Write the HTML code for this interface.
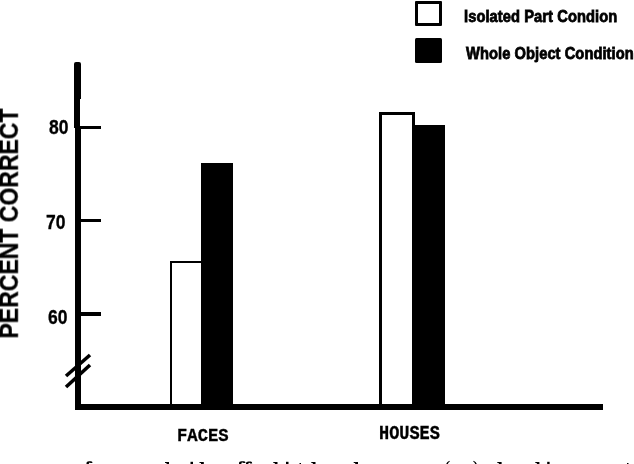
<!DOCTYPE html>
<html><head><meta charset="utf-8">
<style>
html,body{margin:0;padding:0;background:#fff;}
body{width:634px;height:464px;position:relative;overflow:hidden;font-family:"Liberation Sans",sans-serif;font-weight:bold;color:#000;}
.a{position:absolute;}
.k{background:#000;}
.t{position:absolute;white-space:nowrap;line-height:1;transform-origin:0 0;will-change:transform;-webkit-text-stroke:0.3px #000;}
.m{font-family:"Liberation Mono",monospace;}
</style></head><body>
<!-- y axis -->
<div class="a k" style="left:74px;top:62px;width:7px;height:37px;border-radius:2px 2px 0 0;"></div>
<div class="a k" style="left:74px;top:98px;width:6px;height:30px;"></div>
<div class="a k" style="left:75px;top:127px;width:6px;height:283px;"></div>
<!-- x axis -->
<div class="a k" style="left:75px;top:404px;width:528px;height:6px;"></div>
<!-- ticks -->
<div class="a k" style="left:78px;top:126px;width:23px;height:3px;"></div>
<div class="a k" style="left:78px;top:219px;width:23px;height:3px;"></div>
<div class="a k" style="left:78px;top:312px;width:23px;height:4px;"></div>
<!-- tick labels -->
<div class="t" id="l80" style="left:48.5px;top:118px;font-size:17.5px;transform:scaleY(1.15);">80</div>
<div class="t" id="l70" style="left:46px;top:212.5px;font-size:17.5px;transform:scaleY(1.15);">70</div>
<div class="t" id="l60" style="left:48px;top:308px;font-size:17.5px;transform:scaleY(1.15);">60</div>
<!-- axis break -->
<svg class="a" style="left:55px;top:345px;" width="50" height="50" viewBox="55 345 50 50">
<line x1="66" y1="376" x2="90" y2="355" stroke="#000" stroke-width="3.6"/>
<line x1="66" y1="387" x2="90" y2="365" stroke="#000" stroke-width="3.6"/>
</svg>
<!-- bars -->
<div class="a" style="left:169.6px;top:261.4px;width:30px;height:145px;border:2.4px solid #000;border-bottom:0;"></div>
<div class="a k" style="left:201.2px;top:162.6px;width:32.2px;height:244px;"></div>
<div class="a" style="left:378.8px;top:112px;width:30.5px;height:295px;border:3px solid #000;border-bottom:0;"></div>
<div class="a k" style="left:412.5px;top:125px;width:32.5px;height:282px;"></div>
<!-- legend -->
<div class="a" style="left:415px;top:1px;width:21px;height:19px;border:3px solid #000;border-radius:1px;"></div>
<div class="a k" style="left:415px;top:38px;width:27px;height:24.5px;border-radius:1.5px;"></div>
<div class="t" id="lg1" style="-webkit-text-stroke:0.7px #000;left:463.5px;top:8.4px;font-size:14.7px;letter-spacing:0.07px;transform:scaleY(1.13);">Isolated Part Condion</div>
<div class="t" id="lg2" style="-webkit-text-stroke:0.7px #000;left:466px;top:45px;font-size:14.7px;letter-spacing:0.06px;transform:scaleY(1.13);">Whole Object Condition</div>
<!-- x labels -->
<div class="t m" id="xf" style="left:177.1px;top:426.5px;font-size:17.2px;transform:scaleY(1.08);">FACES</div>
<div class="t m" id="xh" style="left:379.2px;top:424.6px;font-size:16.9px;transform:scaleY(1.15);">HOUSES</div>
<!-- y label -->
<div class="t" id="yl" style="left:0;top:0;font-size:23px;transform:translate(-3px,338.5px) rotate(-90deg) scaleY(1.1);">PERCENT CORRECT</div>
<!-- caption remnant -->
<svg class="a" style="left:0;top:454px;" width="634" height="10" viewBox="0 454 634 10" fill="#000"><path d="M86.5 464 V462.8 Q86.5 461.3 89.0 461.3 H91.0 Q92.5 461.3 92.5 463.1 H90.5 Q90.3 462.5 89.5 462.5 H89.7 Q88.9 462.5 88.9 463.3 V464 Z"/><rect x="166.5" y="462" width="2.5" height="2"/><rect x="165.0" y="462" width="2" height="1"/><rect x="190.5" y="461.8" width="2.5" height="2.1999999999999886"/><rect x="201" y="462" width="2.8000000000000114" height="2"/><rect x="199.5" y="462" width="2" height="1"/><path d="M239 464 V462.8 Q239 461.3 241.5 461.3 H244.0 Q245.5 461.3 245.5 463.1 H243.5 Q243.3 462.5 242.5 462.5 H242.2 Q241.4 462.5 241.4 463.3 V464 Z"/><path d="M246 464 V463.1 Q246 461.6 248.5 461.6 H250.7 Q252.2 461.6 252.2 463.40000000000003 H250.2 Q250.0 462.8 249.2 462.8 H249.2 Q248.4 462.8 248.4 463.6 V464 Z"/><rect x="274.8" y="462" width="2.6999999999999886" height="2"/><rect x="273.3" y="462" width="2" height="1"/><rect x="286" y="461.8" width="2.5" height="2.1999999999999886"/><rect x="299.5" y="463" width="1.5" height="1"/><rect x="312.8" y="462" width="2.6999999999999886" height="2"/><rect x="311.3" y="462" width="2" height="1"/><rect x="355.2" y="462" width="2.8000000000000114" height="2"/><rect x="353.7" y="462" width="2" height="1"/><path d="M449.4 460.8 Q446.6 462 446.2 464 H447.8 Q448.4 462.2 449.8 461.4 Z"/><path d="M473.6 460.8 Q476.4 462 476.8 464 H475.2 Q474.6 462.2 473.2 461.4 Z"/><rect x="498.8" y="462" width="2.8000000000000114" height="2"/><rect x="497.3" y="462" width="2" height="1"/><rect x="536.8" y="462" width="2.6000000000000227" height="2"/><rect x="535.3" y="462" width="2" height="1"/><rect x="547.2" y="461.8" width="2.3999999999999773" height="2.1999999999999886"/><rect x="627" y="463" width="1.5" height="1"/></svg>
</body></html>
